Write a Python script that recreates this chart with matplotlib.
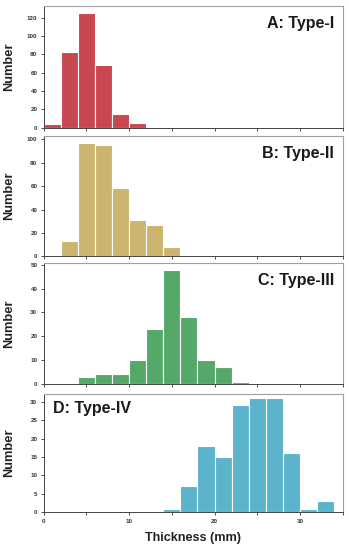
import matplotlib.pyplot as plt
from matplotlib.ticker import MultipleLocator, FuncFormatter

plt.rcParams['font.family'] = ['Liberation Sans', 'DejaVu Sans']

# bin width 2 mm, bins start at the value listed
bin_width = 2
type1_bins = [0, 2, 4, 6, 8, 10]
type1_counts = [4, 83, 125, 69, 15, 5]
type2_bins = [2, 4, 6, 8, 10, 12, 14]
type2_counts = [13, 97, 95, 58, 31, 27, 8]
type3_bins = [4, 6, 8, 10, 12, 14, 16, 18, 20, 22]
type3_counts = [3, 4, 4, 10, 23, 48, 28, 10, 7, 1]
type4_bins = [14, 16, 18, 20, 22, 24, 26, 28, 30, 32]
type4_counts = [1, 7, 18, 15, 29, 31, 31, 16, 1, 3]

panel_titles = ['A: Type-I', 'B: Type-II', 'C: Type-III', 'D: Type-IV']
colors = ['#C9474F', '#CDB46E', '#55A868', '#5CB3CC']
ymax = [133, 103, 50.6, 32.2]
ystep = [20, 20, 10, 5]

panels = [(type1_bins, type1_counts), (type2_bins, type2_counts),
          (type3_bins, type3_counts), (type4_bins, type4_counts)]
# axes rectangles in figure fractions
rects = [[0.125, 0.768, 0.857, 0.221],
         [0.125, 0.534, 0.857, 0.219],
         [0.125, 0.302, 0.857, 0.219],
         [0.125, 0.0685, 0.857, 0.216]]

fig = plt.figure(figsize=(3.49, 5.5), dpi=100)

for i, (bins, counts) in enumerate(panels):
    ax = fig.add_axes(rects[i])
    ax.bar(bins, counts, width=bin_width, align='edge', color=colors[i],
           edgecolor='white', linewidth=0.8)
    ax.set_xlim(0, 35)
    ax.set_ylim(0, ymax[i])
    ax.xaxis.set_major_locator(MultipleLocator(5))
    ax.yaxis.set_major_locator(MultipleLocator(ystep[i]))
    ax.xaxis.set_major_formatter(
        FuncFormatter(lambda v, p: f'{v:.0f}' if v % 10 == 0 else ''))
    ax.tick_params(axis='both', labelsize=4.5, length=2.5, width=0.6,
                   colors='#333333', pad=2)
    for lbl in ax.get_xticklabels() + ax.get_yticklabels():
        lbl.set_fontweight('bold')
    if i < 3:
        ax.tick_params(axis='x', labelbottom=False)
    for s in ['top', 'right']:
        ax.spines[s].set_color('#A0A0A0')
        ax.spines[s].set_linewidth(0.8)
    for s in ['left', 'bottom']:
        ax.spines[s].set_color('#444444')
        ax.spines[s].set_linewidth(0.7)

    ax.set_ylabel('Number', fontsize=9.3, fontweight='bold', color='#222222')
    ax.yaxis.set_label_coords(-0.094, 0.5)

    if i == 3:
        ax.text(0.032, 0.874, panel_titles[i], transform=ax.transAxes,
                ha='left', va='center', fontsize=11.5, fontweight='bold',
                color='#1a1a1a')
        ax.set_xlabel('Thickness (mm)', fontsize=9.1, fontweight='bold',
                      color='#222222', labelpad=6)
    else:
        ax.text(0.972, 0.857, panel_titles[i], transform=ax.transAxes,
                ha='right', va='center', fontsize=11.5, fontweight='bold',
                color='#1a1a1a')

fig.savefig('out.png', dpi=100)
